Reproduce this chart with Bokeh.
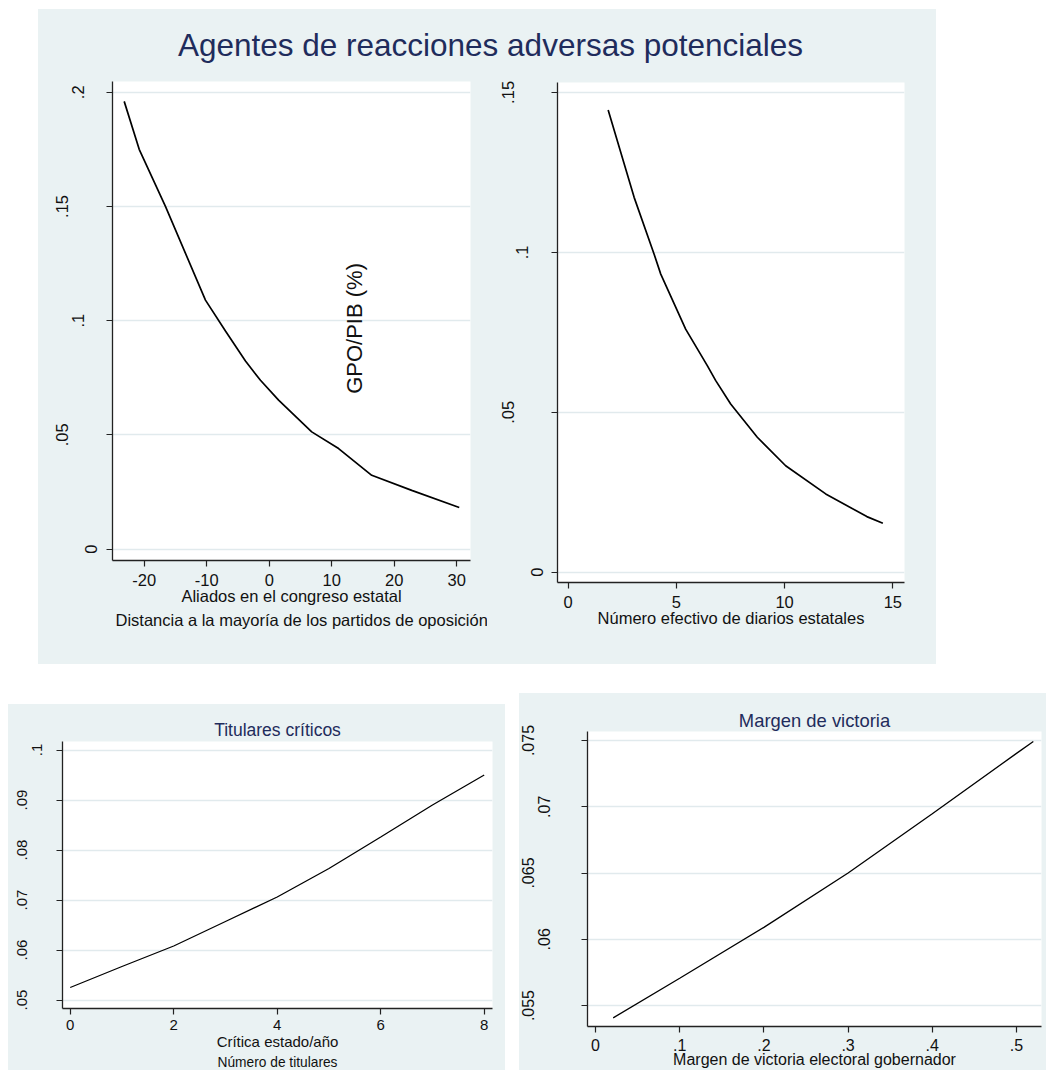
import math
from bokeh.plotting import figure
from bokeh.models import Range1d, FixedTicker, Label, Spacer, LinearAxis, Title
from bokeh.layouts import column, row
from bokeh.embed import file_html
from bokeh.resources import INLINE

# ---------------- data ----------------
main_title = "Agentes de reacciones adversas potenciales"
y_title = "GPO/PIB (%)"

aliados_x = [-23.2, -20.8, -16.6, -10.2, -7.0, -3.8, -1.4, 1.5, 6.8, 11.1, 16.4, 22.8, 30.4]
aliados_y = [0.196, 0.175, 0.150, 0.109, 0.0955, 0.0823, 0.0739, 0.0652, 0.0513, 0.0440, 0.0323, 0.0257, 0.0182]
aliados_xticks = [-20, -10, 0, 10, 20, 30]
aliados_xlabels = ["-20", "-10", "0", "10", "20", "30"]
aliados_yticks = [0, 0.05, 0.1, 0.15, 0.2]
aliados_ylabels = ["0", ".05", ".1", ".15", ".2"]
aliados_xtitle = "Aliados en el congreso estatal"
aliados_note = "Distancia a la mayoría de los partidos de oposición"

diarios_x = [1.85, 3.05, 3.97, 4.28, 5.43, 6.43, 6.82, 7.51, 8.74, 10.05, 11.9, 13.8, 14.54]
diarios_y = [0.1445, 0.1172, 0.0995, 0.0932, 0.0760, 0.0646, 0.0599, 0.0526, 0.0422, 0.0333, 0.0245, 0.0174, 0.0153]
diarios_xticks = [0, 5, 10, 15]
diarios_xlabels = ["0", "5", "10", "15"]
diarios_yticks = [0, 0.05, 0.1, 0.15]
diarios_ylabels = ["0", ".05", ".1", ".15"]
diarios_xtitle = "Número efectivo de diarios estatales"

titulares_title = "Titulares críticos"
titulares_x = [0, 1, 2, 3, 4, 5, 6, 7, 8]
titulares_y = [0.0525, 0.0567, 0.0608, 0.0657, 0.0706, 0.0763, 0.0826, 0.0890, 0.0950]
titulares_xticks = [0, 2, 4, 6, 8]
titulares_xlabels = ["0", "2", "4", "6", "8"]
titulares_yticks = [0.05, 0.06, 0.07, 0.08, 0.09, 0.1]
titulares_ylabels = [".05", ".06", ".07", ".08", ".09", ".1"]
titulares_xtitle = "Crítica estado/año"
titulares_note = "Número de titulares"

margen_title = "Margen de victoria"
margen_x = [0.021, 0.1, 0.2, 0.3, 0.4, 0.5, 0.52]
margen_y = [0.05407, 0.05706, 0.0609, 0.0650, 0.06947, 0.07403, 0.07492]
margen_xticks = [0, 0.1, 0.2, 0.3, 0.4, 0.5]
margen_xlabels = ["0", ".1", ".2", ".3", ".4", ".5"]
margen_yticks = [0.055, 0.06, 0.065, 0.07, 0.075]
margen_ylabels = [".055", ".06", ".065", ".07", ".075"]
margen_xtitle = "Margen de victoria electoral gobernador"

# ---------------- style ----------------
FONT = "Liberation Sans"
BG = "#eaf2f3"
NAVY = "#1f2c5c"
GRID = "#e1eaed"
INK = "#111111"
AXIS = "#222222"
BOX_H = 0.85   # label box thickness / font size (as laid out by Bokeh)
INK_C = 0.34   # glyph centre from the label box's inner edge / font size


def style_axis(ax, fs):
    ax.major_label_text_font = FONT
    ax.major_label_text_font_size = f"{fs}px"
    ax.major_label_text_color = INK
    ax.axis_label_text_font = FONT
    ax.axis_label_text_font_style = "normal"
    ax.axis_label_text_color = INK
    ax.minor_tick_line_color = None


def panel(width, height, borders, xr, yr, xticks, xlabels, yticks, ylabels,
          xs, ys, xtitle, fs, tick_len, lab_standoff, title_standoff, ylab_dist, lw):
    left, right, top, bottom = borders
    p = figure(width=width, height=height, output_backend="svg", toolbar_location=None,
               x_range=Range1d(*xr), y_range=Range1d(*yr),
               min_border_left=left, min_border_right=right,
               min_border_top=top, min_border_bottom=bottom)
    p.frame_align = False
    p.styles = {"background-color": BG}
    p.background_fill_color = "white"
    p.border_fill_color = BG
    p.outline_line_color = None
    p.xgrid.visible = False
    p.ygrid.ticker = FixedTicker(ticks=yticks)
    p.ygrid.grid_line_color = GRID
    p.ygrid.grid_line_width = 1.5

    xa = p.xaxis[0]
    style_axis(xa, fs)
    xa.axis_line_color = AXIS
    xa.axis_line_width = 1.3
    xa.major_tick_line_color = AXIS
    xa.major_tick_line_width = 1.2
    xa.major_tick_out = tick_len
    xa.major_tick_in = 0
    xa.ticker = FixedTicker(ticks=xticks)
    xa.major_label_overrides = {t: l for t, l in zip(xticks, xlabels)}
    xa.major_label_standoff = lab_standoff
    xa.axis_label = xtitle
    xa.axis_label_text_font_size = f"{fs}px"
    xa.axis_label_standoff = title_standoff

    # y tick labels: rotated, set off from the axis according to their length
    box = BOX_H * fs
    c = INK_C * fs
    lengths = sorted(set(len(l) for l in ylabels))
    used = 0
    for i, n in enumerate(lengths):
        dist = ylab_dist[n]
        if i == 0:
            ya = p.yaxis[0]
            ya.axis_line_color = AXIS
            ya.axis_line_width = 1.3
            ya.major_tick_line_color = AXIS
            ya.major_tick_line_width = 1.2
            ya.major_tick_out = tick_len
            ya.major_tick_in = 0
            ya.ticker = FixedTicker(ticks=yticks)
            ya.major_label_overrides = {t: (l if len(l) == n else "") for t, l in zip(yticks, ylabels)}
            s = round(dist - tick_len - c)
            used = tick_len + s + box
        else:
            ya = LinearAxis(ticker=FixedTicker(ticks=[t for t, l in zip(yticks, ylabels) if len(l) == n]),
                            axis_line_color=None, major_tick_line_color=None,
                            major_tick_out=0, major_tick_in=0)
            ya.major_label_overrides = {t: l for t, l in zip(yticks, ylabels) if len(l) == n}
            s = round(dist - used - c)
            used = used + s + box
            p.add_layout(ya, "left")
        style_axis(ya, fs)
        ya.major_label_orientation = "vertical"
        ya.major_label_standoff = s

    p.line(xs, ys, line_color="black", line_width=lw)
    return p


# ---- top block ----
title_fig = figure(width=898, height=61, output_backend="svg", toolbar_location=None,
                   x_range=Range1d(0, 1), y_range=Range1d(0, 1), title_location=None,
                   x_axis_location=None, y_axis_location=None, min_border=0)
title_fig.frame_align = False
title_fig.styles = {"background-color": BG}
title_fig.grid.visible = False
title_fig.outline_line_color = None
title_fig.background_fill_color = BG
title_fig.border_fill_color = BG
title_fig.add_layout(Label(x=0.5033, y=0.41, text=main_title,
                           text_align="center", text_baseline="middle",
                           text_font=FONT, text_font_size="31.5px", text_color=NAVY))

tl_xr = (-25.07, 32.2)
tl_yr = (-0.005, 0.2047)
tl = panel(449, 594, (74, 17, 11, 104), tl_xr, tl_yr,
           aliados_xticks, aliados_xlabels, aliados_yticks, aliados_ylabels,
           aliados_x, aliados_y, aliados_xtitle, 16.5, 6, 7, -2,
           {1: 21, 2: 33, 3: 47.5}, 1.7)
tl.add_layout(Title(text=aliados_note, align="left", offset=3, standoff=2,
                    text_font=FONT, text_font_size="16.5px", text_font_style="normal",
                    text_color=INK), "below")
tl.add_layout(Label(x=13.65, y=0.0966, text=y_title, angle=math.pi / 2,
                    text_align="center", text_baseline="middle",
                    text_font=FONT, text_font_size="22px", text_color=INK))

tr_xr = (-0.49, 15.54)
tr_yr = (-0.0032, 0.1531)
tr = panel(449, 594, (70, 32, 12, 82), tr_xr, tr_yr,
           diarios_xticks, diarios_xlabels, diarios_yticks, diarios_ylabels,
           diarios_x, diarios_y, diarios_xtitle, 16.5, 6, 7, -2,
           {1: 20, 2: 33.7, 3: 46.2}, 1.7)

top_block = column(title_fig, row(tl, tr))

# ---- bottom left ----
bl_xr = (-0.149, 8.16)
bl_yr = (0.0483, 0.1017)
bl = panel(497, 366, (54, 13, 37, 62), bl_xr, bl_yr,
           titulares_xticks, titulares_xlabels, titulares_yticks, titulares_ylabels,
           titulares_x, titulares_y, titulares_xtitle, 15, 6, 5, 0,
           {2: 26.3, 3: 40.6}, 1.3)
bl.title.text = titulares_title
bl.title.align = "center"
bl.title.text_font = FONT
bl.title.text_font_size = "17.5px"
bl.title.text_font_style = "normal"
bl.title.text_color = NAVY
bl.title.standoff = 4
bl.add_layout(Title(text=titulares_note, align="center", offset=-3, standoff=1,
                    text_font=FONT, text_font_size="13.75px", text_font_style="normal",
                    text_color=INK), "below")

# ---- bottom right ----
br_xr = (-0.0095, 0.5297)
br_yr = (0.05342, 0.07568)
br = panel(527, 377, (67, 5, 38, 44), br_xr, br_yr,
           margen_xticks, margen_xlabels, margen_yticks, margen_ylabels,
           margen_x, margen_y, margen_xtitle, 16, 6, 6, -3,
           {3: 42.5, 4: 57}, 1.3)
br.title.text = margen_title
br.title.align = "center"
br.title.text_font = FONT
br.title.text_font_size = "18.4px"
br.title.text_font_style = "normal"
br.title.text_color = NAVY
br.title.standoff = 2

layout = column(
    Spacer(width=10, height=9),
    row(Spacer(width=38, height=10), top_block),
    Spacer(width=10, height=29),
    row(Spacer(width=8, height=10), column(Spacer(width=10, height=11), bl),
        Spacer(width=14, height=10), br),
)

open("out.html", "w").write(file_html(layout, INLINE))
